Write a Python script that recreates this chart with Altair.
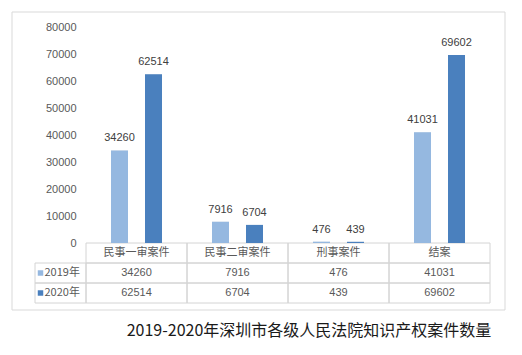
import altair as alt
import pandas as pd

categories = ["民事一审案件", "民事二审案件", "刑事案件", "结案"]
series = ["2019年", "2020年"]
values_2019 = [34260, 7916, 476, 41031]
values_2020 = [62514, 6704, 439, 69602]
y_ticks = [0, 10000, 20000, 30000, 40000, 50000, 60000, 70000, 80000]
title_text = "2019-2020年深圳市各级人民法院知识产权案件数量"

colors = ["#95B8E0", "#4A80BE"]
FONT = "Liberation Sans"
CJK = "Noto Sans CJK SC"

rows = []
for s, vals in zip(series, [values_2019, values_2020]):
    for c, v in zip(categories, vals):
        rows.append({"cat": c, "series": s, "value": v})
df = pd.DataFrame(rows)

xscale = alt.Scale(domain=categories, paddingInner=0, paddingOuter=0)
off_scale = alt.Scale(domain=series, paddingInner=0.5, paddingOuter=0.735)
yscale = alt.Scale(domain=[0, 80000], range=[216, 0])
color_scale = alt.Scale(domain=series, range=colors)
row_domain = ["header"] + series
row_scale = alt.Scale(domain=row_domain, range=[216, 276], paddingInner=0, paddingOuter=0)

base = alt.Chart(df)

shadow = base.mark_bar(color="#d8d8d8", opacity=0.6, xOffset=2).encode(
    x=alt.X("cat:N", scale=xscale, axis=None, sort=categories),
    xOffset=alt.XOffset("series:N", scale=off_scale, sort=series),
    y=alt.Y("value:Q", scale=yscale, axis=None),
)

bars = base.mark_bar().encode(
    x=alt.X("cat:N", scale=xscale, axis=None, sort=categories),
    xOffset=alt.XOffset("series:N", scale=off_scale, sort=series),
    y=alt.Y("value:Q", scale=yscale,
            axis=alt.Axis(values=y_ticks, title=None, domain=False, ticks=False, grid=False,
                          labelPadding=10, labelFont=FONT, labelFontSize=11,
                          labelColor="#595959", format="d")),
    color=alt.Color("series:N", scale=color_scale, legend=None),
)

labels = base.mark_text(baseline="bottom", dy=-7, font=FONT, fontSize=11, color="#404040").encode(
    x=alt.X("cat:N", scale=xscale, axis=None, sort=categories),
    xOffset=alt.XOffset("series:N", scale=off_scale, sort=series),
    y=alt.Y("value:Q", scale=yscale, axis=None),
    text=alt.Text("value:Q", format="d"),
)

# table cells
cell_rows = [{"cat": c, "row": r} for r in row_domain for c in categories]
cells_df = pd.DataFrame(cell_rows)
cells = alt.Chart(cells_df).mark_rect(fill="white", fillOpacity=0, stroke="#d4d4d4", strokeWidth=1).encode(
    x=alt.X("cat:N", scale=xscale, axis=None, sort=categories),
    y=alt.Y("row:N", scale=row_scale, axis=None, sort=row_domain),
)

header_df = pd.DataFrame({"cat": categories, "row": ["header"] * 4})
header_text = alt.Chart(header_df).mark_text(font=CJK, fontSize=11, color="#595959").encode(
    x=alt.X("cat:N", scale=xscale, axis=None, sort=categories),
    y=alt.Y("row:N", scale=row_scale, axis=None, sort=row_domain, bandPosition=0.5),
    text="cat:N",
)

table_vals = base.mark_text(font=FONT, fontSize=11, color="#595959").encode(
    x=alt.X("cat:N", scale=xscale, axis=None, sort=categories),
    y=alt.Y("series:N", scale=row_scale, axis=None, sort=row_domain, bandPosition=0.5),
    text=alt.Text("value:Q", format="d"),
)

# left label column (legend)
left_df = pd.DataFrame({"col": ["label", "label"], "row": series})
left_scale = alt.Scale(domain=["label"], range=[-51, 0], paddingInner=0, paddingOuter=0)
left_cells = alt.Chart(left_df).mark_rect(fill="white", fillOpacity=0, stroke="#d4d4d4", strokeWidth=1).encode(
    x=alt.X("col:N", scale=left_scale, axis=None),
    y=alt.Y("row:N", scale=row_scale, axis=None, sort=row_domain),
)
left_swatch = alt.Chart(left_df).mark_square(size=30, opacity=1, xOffset=-20).encode(
    x=alt.X("col:N", scale=left_scale, axis=None, bandPosition=0.5),
    y=alt.Y("row:N", scale=row_scale, axis=None, sort=row_domain, bandPosition=0.5),
    color=alt.Color("row:N", scale=color_scale, legend=None),
)
left_text = alt.Chart(left_df).mark_text(font=CJK, fontSize=11, color="#595959", align="left", dx=-16).encode(
    x=alt.X("col:N", scale=left_scale, axis=None, bandPosition=0.5),
    y=alt.Y("row:N", scale=row_scale, axis=None, sort=row_domain, bandPosition=0.5),
    text="row:N",
)

frame = alt.Chart(pd.DataFrame({"a": [0]})).mark_rect(
    fill=None, stroke="#d9d9d9", strokeWidth=1
).encode(x=alt.value(-74), x2=alt.value(419), y=alt.value(-15), y2=alt.value(283))

chart = alt.layer(
    frame, cells, left_cells, shadow, bars, labels, header_text, table_vals,
    left_swatch, left_text
).resolve_scale(
    y="independent", x="independent", color="shared"
).properties(
    width=404,
    height=216,
    padding={"left": 86, "top": 27, "right": 32, "bottom": 112},
    autosize=alt.AutoSizeParams(type="none"),
    title=alt.Title(title_text, orient="bottom", font=CJK, fontSize=16, fontWeight="normal",
                    color="#1a1a1a", anchor="middle", dx=21, offset=12),
    background="white",
).configure_view(stroke=None)

chart.save("out.html", embed_options={"renderer": "svg", "actions": False})
